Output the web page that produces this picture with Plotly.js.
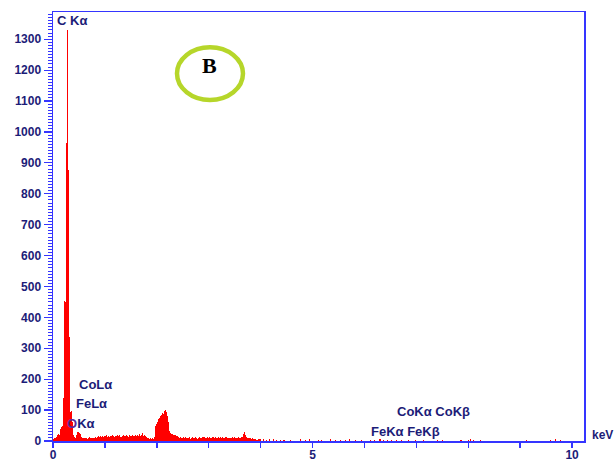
<!DOCTYPE html>
<html>
<head>
<meta charset="utf-8">
<script src="https://cdn.plot.ly/plotly-3.0.1.min.js"></script>
<style>html,body{margin:0;padding:0;background:#fff;}#chart{width:614px;height:463px;}</style>
</head>
<body>
<div id="chart"></div>
<script>
// Low-energy region, 0.01 keV channels starting at 0.00 keV
var lowStart = 0.005, lowStep = 0.01;
var lowCounts = [8,10,10,11,10,12,14,
  18,20,19,22,20,21,24,
  40,45,44,48,50,
  139,139,141,
  453,455,450,
  965,968,
  1330,
  880,878,
  340,338,336,
  95,92,98,90,60,
  22,18,14,12,10,11,14,
  20,28,30,32,30,28,26,22,18,14,12,
  10,9,11,10];

// Mid region, 0.02 keV channels from 0.60 to 4.00 keV
var midStart = 0.61, midStep = 0.02;
var midCounts = [
  10,9,11,8,10,12,9,10,11,9,
  12,10,14,16,13,15,12,17,14,16,
  15,18,14,16,13,17,15,19,16,14,
  17,15,20,16,18,14,17,19,15,16,
  18,16,14,19,17,15,20,17,16,18,
  15,19,17,22,16,18,25,17,19,15,
  12,9,8,10,7,9,8,12,48,55,
  62,70,76,82,85,92,88,97,100,95,
  80,60,33,25,22,24,20,18,15,16,
  12,10,13,11,9,12,10,14,11,9,
  10,12,8,11,13,9,10,12,11,8,
  11,13,10,9,12,14,10,11,13,9,
  12,10,11,14,12,9,13,11,10,12,
  10,12,11,13,9,11,14,12,10,11,
  9,11,12,10,13,11,9,10,12,10,
  11,13,14,22,28,18,12,10,11,9,
  10,8,9,7,5,6,4,5,6,5];

// Sparse high-energy tail
var tailEnergy = [4.05,4.12,4.18,4.25,4.30,4.38,4.45,4.57,4.76,4.86,4.95,5.11,5.18,5.34,5.45,5.53,5.63,5.72,5.82,5.95,6.11,6.20,6.30,6.36,6.45,6.53,6.61,6.72,6.84,6.98,7.13,7.40,7.50,7.86,8.00,8.05,8.11,8.23,9.13,9.58,9.69,9.77];
var tailCounts = [5,4,6,5,4,3,4,4,5,3,5,4,3,5,4,3,4,5,3,4,3,4,5,3,4,3,4,3,3,3,3,4,3,3,4,5,3,3,3,4,5,3];

// Peak labels
var peakLabels = ['C Kα','CoLα','FeLα','<span style="color:#5a2a9a">O</span>Kα','CoKα CoKβ','FeKα FeKβ'];
var peakLabelE = [0.035,0.46,0.40,0.24,6.59,6.09];
var peakLabelY = [1362,184,120,58,97,32];

var xTickVals = [0,5,10];
var xTickText = ['0','5','10'];

var red = '#ff0000';
var axisBlue = '#3535ff';
var labelNavy = '#1c1c78';
var fontFam = '"Liberation Sans", Arial, sans-serif';

var traces = [
  {type:'bar', x0:lowStart, dx:lowStep, y:lowCounts, width:lowStep, marker:{color:red, line:{width:0}}, hoverinfo:'skip'},
  {type:'bar', x0:midStart, dx:midStep, y:midCounts, width:midStep, marker:{color:red, line:{width:0}}, hoverinfo:'skip'},
  {type:'bar', x:tailEnergy, y:tailCounts, width:0.02, marker:{color:red, line:{width:0}}, hoverinfo:'skip'}
];

var annotations = [];
for (var i = 0; i < peakLabels.length; i++) {
  annotations.push({x:peakLabelE[i], y:peakLabelY[i], xref:'x', yref:'y', text:peakLabels[i], showarrow:false,
    xanchor:'left', yanchor:'middle', font:{family:fontFam, size:13, color:labelNavy, weight:'bold'}});
}
annotations.push({x:1.011, y:0.014, xref:'paper', yref:'paper', text:'keV', showarrow:false, xanchor:'left', yanchor:'middle',
  font:{family:fontFam, size:12, color:labelNavy, weight:'bold'}});
annotations.push({x:0.2947, y:0.875, xref:'paper', yref:'paper', text:'B', showarrow:false, xanchor:'center', yanchor:'middle',
  font:{family:'"Liberation Serif", "Times New Roman", serif', size:22, color:'#000', weight:'bold'}});

var layout = {
  width:614, height:463,
  margin:{l:53, r:30, t:12, b:22, pad:0},
  paper_bgcolor:'#fff', plot_bgcolor:'#fff',
  showlegend:false, bargap:0, barmode:'overlay',
  xaxis:{range:[0,10.23], showgrid:false, zeroline:false, showline:true, mirror:true, linecolor:axisBlue, linewidth:1.5,
    tickmode:'array', tickvals:xTickVals, ticktext:xTickText, ticks:'outside', ticklen:5, tickwidth:1.5, tickcolor:axisBlue,
    ticklabelstandoff:-3,
    minor:{dtick:1, ticks:'outside', ticklen:5, tickwidth:1.5, tickcolor:axisBlue},
    tickfont:{family:fontFam, size:12, color:labelNavy, weight:'bold'}},
  yaxis:{range:[0,1388], showgrid:false, zeroline:false, showline:true, mirror:true, linecolor:axisBlue, linewidth:1.5,
    dtick:100, tick0:0, ticks:'outside', ticklen:8, tickwidth:1.2, tickcolor:axisBlue,
    minor:{dtick:10, ticks:'outside', ticklen:4, tickwidth:1, tickcolor:axisBlue},
    tickfont:{family:fontFam, size:12, color:labelNavy, weight:'bold'}},
  shapes:[{type:'circle', xref:'paper', yref:'paper', x0:0.2335, x1:0.3578, y0:0.795, y1:0.918,
    line:{color:'#b6d62a', width:4.5}}],
  annotations:annotations
};

Plotly.newPlot('chart', traces, layout, {staticPlot:true, displayModeBar:false});
</script>
</body>
</html>
